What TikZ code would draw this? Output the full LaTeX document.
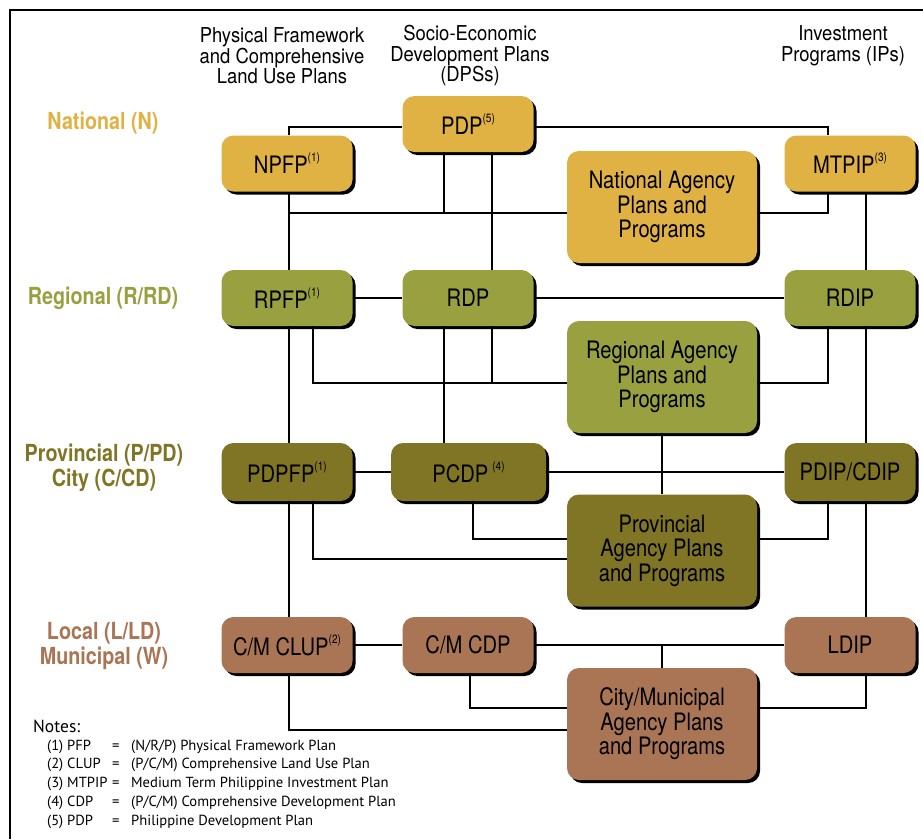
\documentclass[tikz,border=0pt]{standalone}
\usepackage{fontspec}
\setmainfont{TeX Gyre Heros}
\newfontfamily\condfont[FakeStretch=0.84]{TeX Gyre Heros}
\newfontfamily\headfont[FakeStretch=0.9]{TeX Gyre Heros}
\newfontfamily\notefont{PT Sans}
\usetikzlibrary{shadows}
\definecolor{natcol}{RGB}{224,178,67}
\definecolor{regcol}{RGB}{152,160,63}
\definecolor{provcol}{RGB}{128,117,36}
\definecolor{loccol}{RGB}{169,117,85}
\newcommand\supnum[1]{\raisebox{0.5em}{\fontsize{12}{12}\selectfont(#1)}}

\begin{document}
\begin{tikzpicture}[x=1pt, y=-1pt,
plan/.style={rectangle, rounded corners=12pt, minimum width=131pt, minimum height=56pt, inner sep=0pt, align=center, font=\condfont\fontsize{24}{24.5}\selectfont, drop shadow={shadow xshift=3pt, shadow yshift=-3pt, fill=black, opacity=1}},
agency/.style={plan, minimum width=190pt, minimum height=112pt},
level/.style={align=center, font=\condfont\bfseries\fontsize{23.5}{25.5}\selectfont},
head/.style={align=center, font=\headfont\fontsize{20.5}{20.5}\selectfont},
link/.style={line width=2pt}
]
\useasboundingbox (0,0) rectangle (923,839);
\draw[line width=2pt] (10,839) -- (10,10) -- (923,10);

\node[head] (hpf) at (282,56) {Physical Framework\\and Comprehensive\\Land Use Plans};
\node[head] (hdp) at (470,56) {Socio-Economic\\Development Plans\\(DPSs)};
\node[head] (hip) at (843,46) {Investment\\Programs (IPs)};

\node[level, text=natcol] (lnat) at (103,123) {National (N)};
\node[level, text=regcol] (lreg) at (103,298) {Regional (R/RD)};
\node[level, text=provcol] (lprov) at (104,468) {Provincial (P/PD)\\City (C/CD)};
\node[level, text=loccol] (lloc) at (104,646) {Local (L/LD)\\Municipal (W)};

\node[plan, fill=natcol] (npfp) at (287,163.5) {NPFP\supnum{1}};
\node[plan, fill=natcol] (pdp) at (468,124) {PDP\supnum{5}};
\node[agency, fill=natcol] (nap) at (662,207) {National Agency\\Plans and\\Programs};
\node[plan, fill=natcol] (mtpip) at (850,163.5) {MTPIP\supnum{3}};

\node[plan, fill=regcol] (rpfp) at (287,298) {RPFP\supnum{1}};
\node[plan, fill=regcol] (rdp) at (468,298) {RDP};
\node[agency, fill=regcol] (rap) at (662,377) {Regional Agency\\Plans and\\Programs};
\node[plan, fill=regcol] (rdip) at (850,298) {RDIP};

\node[plan, fill=provcol, minimum height=58pt] (pdpfp) at (287,472) {PDPFP\supnum{1}};
\node[plan, fill=provcol, minimum height=58pt, minimum width=155pt] (pcdp) at (468.5,472) {PCDP\,\supnum{4}};
\node[agency, fill=provcol] (pap) at (662,550.5) {Provincial\\Agency Plans\\and Programs};
\node[plan, fill=provcol, minimum height=58pt] (pdip) at (850,472) {PDIP/CDIP};

\node[plan, fill=loccol] (clup) at (287,645) {C/M CLUP\supnum{2}};
\node[plan, fill=loccol] (cmcdp) at (468,645) {C/M CDP};
\node[agency, fill=loccol] (cap) at (662,724) {City/Municipal\\Agency Plans\\and Programs};
\node[plan, fill=loccol] (ldip) at (850,645) {LDIP};

\draw[link] ([xshift=2pt]npfp.north) |- ([yshift=-3pt]pdp.west);
\draw[link] ([yshift=-3pt]pdp.east) -| ([xshift=-22pt]mtpip.north);
\draw[link] ([xshift=2pt]npfp.south) |- ([yshift=-6pt]nap.west);
\draw[link] ([xshift=-24pt]pdp.south) |- ([yshift=-6pt]nap.west);
\draw[link] ([xshift=24pt]pdp.south) -- ([xshift=24pt]rdp.north);
\draw[link] ([xshift=2pt]npfp.south) -- ([xshift=2pt]rpfp.north);
\draw[link] ([xshift=-22pt]mtpip.south) |- ([yshift=-6pt]nap.east);
\draw[link] ([xshift=16pt]mtpip.south) -- ([xshift=16pt]rdip.north);

\draw[link] (rpfp) -- (rdp);
\draw[link] (rdp) -- (rdip);
\draw[link] ([xshift=26pt]rpfp.south) |- ([yshift=-6pt]rap.west);
\draw[link] ([xshift=24pt]rdp.south) |- ([yshift=-6pt]rap.west);
\draw[link] ([xshift=-22pt]rdip.south) |- ([yshift=-6pt]rap.east);
\draw[link] ([xshift=2pt]rpfp.south) -- ([xshift=2pt]pdpfp.north);
\draw[link] ([xshift=-24pt]rdp.south) -- ([xshift=-24.5pt]pcdp.north);
\draw[link] ([xshift=16pt]rdip.south) -- ([xshift=16pt]pdip.north);
\draw[link] (rap.south) -- (pap.north);

\draw[link] (pdpfp) -- (pcdp);
\draw[link] (pcdp) -- (pdip);
\draw[link] ([xshift=26pt]pdpfp.south) |- ([yshift=-8.5pt]pap.west);
\draw[link] ([xshift=4.5pt]pcdp.south) |- ([yshift=11.5pt]pap.west);
\draw[link] ([xshift=-22pt]pdip.south) |- ([yshift=11.5pt]pap.east);
\draw[link] ([xshift=2pt]pdpfp.south) -- ([xshift=2pt]clup.north);
\draw[link] ([xshift=16pt]pdip.south) -- ([xshift=16pt]ldip.north);

\draw[link] (clup) -- (cmcdp);
\draw[link] (cmcdp) -- (ldip);
\draw[link] (cap.north) -- (cap.north |- cmcdp.east);
\draw[link] ([xshift=2pt]clup.south) |- ([yshift=-6pt]cap.west);
\draw[link] ([xshift=2pt]cmcdp.south) |- ([yshift=16pt]cap.west);
\draw[link] ([xshift=16pt]ldip.south) |- ([yshift=16pt]cap.east);

\node[anchor=west, inner sep=0pt, font=\notefont\fontsize{17.5}{17.5}\selectfont] (notes) at (33,726) {Notes:};
\node[anchor=north west, inner sep=0pt, align=left, font=\notefont\fontsize{14.6}{18.8}\selectfont] (notelist) at (47,739.5) {%
\makebox[65pt][l]{(1) PFP}\makebox[19pt][l]{=}(N/R/P) Physical Framework Plan\\
\makebox[65pt][l]{(2) CLUP}\makebox[19pt][l]{=}(P/C/M) Comprehensive Land Use Plan\\
\makebox[65pt][l]{(3) MTPIP}\makebox[19pt][l]{=}Medium Term Philippine Investment Plan\\
\makebox[65pt][l]{(4) CDP}\makebox[19pt][l]{=}(P/C/M) Comprehensive Development Plan\\
\makebox[65pt][l]{(5) PDP}\makebox[19pt][l]{=}Philippine Development Plan};
\end{tikzpicture}
\end{document}
